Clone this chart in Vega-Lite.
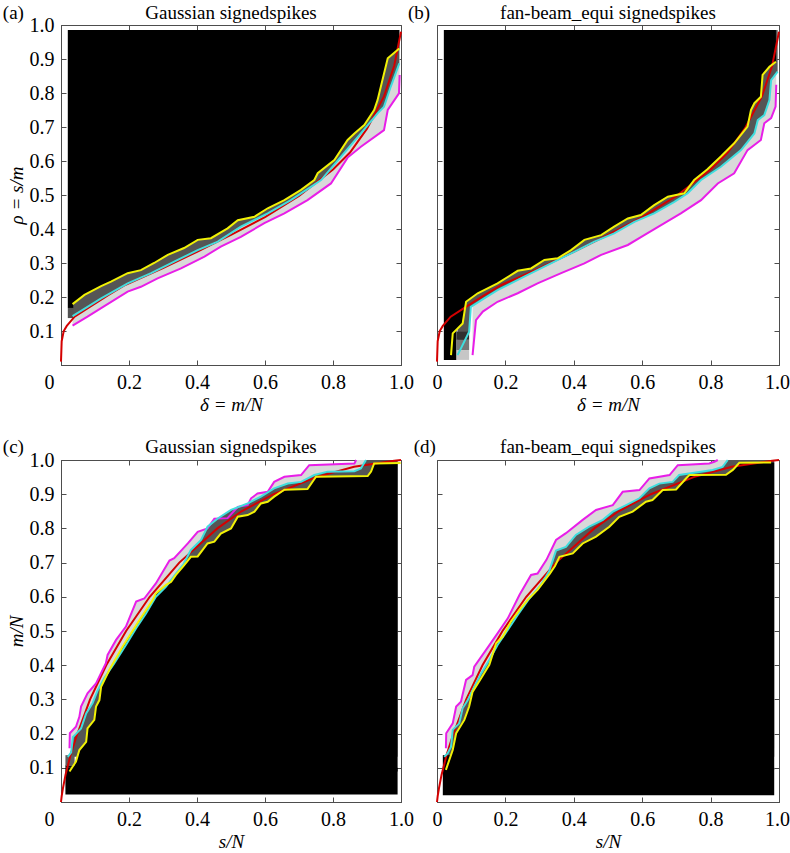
{
"$schema":"https://vega.github.io/schema/vega-lite/v6.json",
"background":"white",
"padding":{"left":2,"top":3,"right":4,"bottom":0},
"bounds":"flush",
"columns":2,
"spacing":{"row":95,"column":36},
"datasets":{
"L":[
{"p":"ab","s":"R","x":0,"y":0.01},{"p":"ab","s":"R","x":0.002,"y":0.07},{"p":"ab","s":"R","x":0.008,"y":0.1},{"p":"ab","s":"R","x":0.017,"y":0.115},{"p":"ab","s":"R","x":0.04,"y":0.142},{"p":"ab","s":"R","x":0.08,"y":0.168},{"p":"ab","s":"R","x":0.14,"y":0.206},{"p":"ab","s":"R","x":0.19,"y":0.236},{"p":"ab","s":"R","x":0.3,"y":0.285},{"p":"ab","s":"R","x":0.4,"y":0.333},{"p":"ab","s":"R","x":0.5,"y":0.383},{"p":"ab","s":"R","x":0.6,"y":0.435},{"p":"ab","s":"R","x":0.7,"y":0.497},{"p":"ab","s":"R","x":0.8,"y":0.575},{"p":"ab","s":"R","x":0.85,"y":0.625},{"p":"ab","s":"R","x":0.9,"y":0.695},{"p":"ab","s":"R","x":0.95,"y":0.79},{"p":"ab","s":"R","x":0.98,"y":0.88},{"p":"ab","s":"R","x":1.0,"y":0.98},
{"p":"cd","s":"R","x":0,"y":0},{"p":"cd","s":"R","x":0.002,"y":0.017},{"p":"cd","s":"R","x":0.0057,"y":0.04},{"p":"cd","s":"R","x":0.0134,"y":0.08},{"p":"cd","s":"R","x":0.0288,"y":0.14},{"p":"cd","s":"R","x":0.0448,"y":0.19},{"p":"cd","s":"R","x":0.0855,"y":0.3},{"p":"cd","s":"R","x":0.133,"y":0.4},{"p":"cd","s":"R","x":0.1915,"y":0.5},{"p":"cd","s":"R","x":0.261,"y":0.6},{"p":"cd","s":"R","x":0.348,"y":0.7},{"p":"cd","s":"R","x":0.46,"y":0.8},{"p":"cd","s":"R","x":0.531,"y":0.85},{"p":"cd","s":"R","x":0.6255,"y":0.9},{"p":"cd","s":"R","x":0.7505,"y":0.95},{"p":"cd","s":"R","x":0.862,"y":0.98},{"p":"cd","s":"R","x":0.98,"y":0.998},{"p":"cd","s":"R","x":1.0,"y":1.0},
{"p":"a","s":"Y","x":0.034,"y":0.179},{"p":"a","s":"Y","x":0.069,"y":0.206},{"p":"a","s":"Y","x":0.118,"y":0.232},{"p":"a","s":"Y","x":0.147,"y":0.245},{"p":"a","s":"Y","x":0.196,"y":0.27},{"p":"a","s":"Y","x":0.235,"y":0.279},{"p":"a","s":"Y","x":0.274,"y":0.3},{"p":"a","s":"Y","x":0.314,"y":0.324},{"p":"a","s":"Y","x":0.362,"y":0.344},{"p":"a","s":"Y","x":0.402,"y":0.368},{"p":"a","s":"Y","x":0.441,"y":0.373},{"p":"a","s":"Y","x":0.49,"y":0.402},{"p":"a","s":"Y","x":0.52,"y":0.426},{"p":"a","s":"Y","x":0.569,"y":0.436},{"p":"a","s":"Y","x":0.608,"y":0.461},{"p":"a","s":"Y","x":0.657,"y":0.485},{"p":"a","s":"Y","x":0.706,"y":0.515},{"p":"a","s":"Y","x":0.745,"y":0.544},{"p":"a","s":"Y","x":0.755,"y":0.564},{"p":"a","s":"Y","x":0.804,"y":0.603},{"p":"a","s":"Y","x":0.843,"y":0.662},{"p":"a","s":"Y","x":0.863,"y":0.681},{"p":"a","s":"Y","x":0.892,"y":0.706},{"p":"a","s":"Y","x":0.921,"y":0.75},{"p":"a","s":"Y","x":0.931,"y":0.779},{"p":"a","s":"Y","x":0.961,"y":0.902},{"p":"a","s":"Y","x":0.995,"y":0.931},
{"p":"a","s":"C","x":0.034,"y":0.144},{"p":"a","s":"C","x":0.078,"y":0.171},{"p":"a","s":"C","x":0.118,"y":0.196},{"p":"a","s":"C","x":0.196,"y":0.24},{"p":"a","s":"C","x":0.265,"y":0.27},{"p":"a","s":"C","x":0.333,"y":0.304},{"p":"a","s":"C","x":0.402,"y":0.338},{"p":"a","s":"C","x":0.461,"y":0.363},{"p":"a","s":"C","x":0.529,"y":0.407},{"p":"a","s":"C","x":0.608,"y":0.446},{"p":"a","s":"C","x":0.676,"y":0.485},{"p":"a","s":"C","x":0.735,"y":0.524},{"p":"a","s":"C","x":0.765,"y":0.544},{"p":"a","s":"C","x":0.833,"y":0.624},{"p":"a","s":"C","x":0.882,"y":0.681},{"p":"a","s":"C","x":0.931,"y":0.74},{"p":"a","s":"C","x":0.95,"y":0.76},{"p":"a","s":"C","x":0.97,"y":0.819},{"p":"a","s":"C","x":0.995,"y":0.887},
{"p":"a","s":"M","x":0.034,"y":0.116},{"p":"a","s":"M","x":0.078,"y":0.142},{"p":"a","s":"M","x":0.118,"y":0.167},{"p":"a","s":"M","x":0.196,"y":0.216},{"p":"a","s":"M","x":0.235,"y":0.23},{"p":"a","s":"M","x":0.284,"y":0.255},{"p":"a","s":"M","x":0.353,"y":0.284},{"p":"a","s":"M","x":0.422,"y":0.319},{"p":"a","s":"M","x":0.47,"y":0.348},{"p":"a","s":"M","x":0.529,"y":0.377},{"p":"a","s":"M","x":0.598,"y":0.417},{"p":"a","s":"M","x":0.657,"y":0.446},{"p":"a","s":"M","x":0.725,"y":0.485},{"p":"a","s":"M","x":0.794,"y":0.534},{"p":"a","s":"M","x":0.843,"y":0.61},{"p":"a","s":"M","x":0.882,"y":0.642},{"p":"a","s":"M","x":0.95,"y":0.691},{"p":"a","s":"M","x":0.961,"y":0.75},{"p":"a","s":"M","x":0.994,"y":0.799},{"p":"a","s":"M","x":0.996,"y":0.853},
{"p":"b","s":"Y","x":0.041,"y":0.029},{"p":"b","s":"Y","x":0.046,"y":0.093},{"p":"b","s":"Y","x":0.075,"y":0.122},{"p":"b","s":"Y","x":0.085,"y":0.186},{"p":"b","s":"Y","x":0.119,"y":0.211},{"p":"b","s":"Y","x":0.177,"y":0.24},{"p":"b","s":"Y","x":0.236,"y":0.277},{"p":"b","s":"Y","x":0.275,"y":0.284},{"p":"b","s":"Y","x":0.314,"y":0.309},{"p":"b","s":"Y","x":0.353,"y":0.314},{"p":"b","s":"Y","x":0.392,"y":0.338},{"p":"b","s":"Y","x":0.431,"y":0.368},{"p":"b","s":"Y","x":0.48,"y":0.382},{"p":"b","s":"Y","x":0.518,"y":0.407},{"p":"b","s":"Y","x":0.558,"y":0.431},{"p":"b","s":"Y","x":0.596,"y":0.441},{"p":"b","s":"Y","x":0.635,"y":0.47},{"p":"b","s":"Y","x":0.675,"y":0.495},{"p":"b","s":"Y","x":0.723,"y":0.505},{"p":"b","s":"Y","x":0.752,"y":0.544},{"p":"b","s":"Y","x":0.79,"y":0.575},{"p":"b","s":"Y","x":0.83,"y":0.613},{"p":"b","s":"Y","x":0.869,"y":0.652},{"p":"b","s":"Y","x":0.908,"y":0.701},{"p":"b","s":"Y","x":0.918,"y":0.75},{"p":"b","s":"Y","x":0.928,"y":0.77},{"p":"b","s":"Y","x":0.947,"y":0.789},{"p":"b","s":"Y","x":0.952,"y":0.853},{"p":"b","s":"Y","x":0.972,"y":0.877},{"p":"b","s":"Y","x":0.991,"y":0.892},
{"p":"b","s":"C","x":0.06,"y":0.029},{"p":"b","s":"C","x":0.07,"y":0.049},{"p":"b","s":"C","x":0.094,"y":0.098},{"p":"b","s":"C","x":0.099,"y":0.171},{"p":"b","s":"C","x":0.138,"y":0.196},{"p":"b","s":"C","x":0.177,"y":0.22},{"p":"b","s":"C","x":0.255,"y":0.26},{"p":"b","s":"C","x":0.333,"y":0.299},{"p":"b","s":"C","x":0.401,"y":0.333},{"p":"b","s":"C","x":0.46,"y":0.363},{"p":"b","s":"C","x":0.518,"y":0.387},{"p":"b","s":"C","x":0.577,"y":0.421},{"p":"b","s":"C","x":0.635,"y":0.446},{"p":"b","s":"C","x":0.694,"y":0.48},{"p":"b","s":"C","x":0.733,"y":0.505},{"p":"b","s":"C","x":0.772,"y":0.544},{"p":"b","s":"C","x":0.83,"y":0.583},{"p":"b","s":"C","x":0.889,"y":0.632},{"p":"b","s":"C","x":0.928,"y":0.681},{"p":"b","s":"C","x":0.938,"y":0.72},{"p":"b","s":"C","x":0.957,"y":0.735},{"p":"b","s":"C","x":0.972,"y":0.779},{"p":"b","s":"C","x":0.977,"y":0.838},{"p":"b","s":"C","x":0.996,"y":0.863},
{"p":"b","s":"M","x":0.104,"y":0.029},{"p":"b","s":"M","x":0.114,"y":0.132},{"p":"b","s":"M","x":0.134,"y":0.157},{"p":"b","s":"M","x":0.177,"y":0.186},{"p":"b","s":"M","x":0.236,"y":0.211},{"p":"b","s":"M","x":0.294,"y":0.24},{"p":"b","s":"M","x":0.363,"y":0.27},{"p":"b","s":"M","x":0.431,"y":0.299},{"p":"b","s":"M","x":0.48,"y":0.324},{"p":"b","s":"M","x":0.558,"y":0.353},{"p":"b","s":"M","x":0.606,"y":0.382},{"p":"b","s":"M","x":0.665,"y":0.417},{"p":"b","s":"M","x":0.713,"y":0.446},{"p":"b","s":"M","x":0.772,"y":0.485},{"p":"b","s":"M","x":0.821,"y":0.534},{"p":"b","s":"M","x":0.869,"y":0.564},{"p":"b","s":"M","x":0.908,"y":0.632},{"p":"b","s":"M","x":0.947,"y":0.662},{"p":"b","s":"M","x":0.957,"y":0.711},{"p":"b","s":"M","x":0.977,"y":0.726},{"p":"b","s":"M","x":0.99,"y":0.76},{"p":"b","s":"M","x":0.992,"y":0.824},
{"p":"c","s":"Y","x":0.025,"y":0.089},{"p":"c","s":"Y","x":0.044,"y":0.118},{"p":"c","s":"Y","x":0.054,"y":0.152},{"p":"c","s":"Y","x":0.074,"y":0.176},{"p":"c","s":"Y","x":0.078,"y":0.215},{"p":"c","s":"Y","x":0.098,"y":0.24},{"p":"c","s":"Y","x":0.103,"y":0.279},{"p":"c","s":"Y","x":0.113,"y":0.298},{"p":"c","s":"Y","x":0.118,"y":0.337},{"p":"c","s":"Y","x":0.142,"y":0.386},{"p":"c","s":"Y","x":0.181,"y":0.454},{"p":"c","s":"Y","x":0.225,"y":0.523},{"p":"c","s":"Y","x":0.27,"y":0.591},{"p":"c","s":"Y","x":0.279,"y":0.61},{"p":"c","s":"Y","x":0.309,"y":0.635},{"p":"c","s":"Y","x":0.324,"y":0.644},{"p":"c","s":"Y","x":0.338,"y":0.664},{"p":"c","s":"Y","x":0.36,"y":0.69},{"p":"c","s":"Y","x":0.382,"y":0.717},{"p":"c","s":"Y","x":0.402,"y":0.718},{"p":"c","s":"Y","x":0.431,"y":0.756},{"p":"c","s":"Y","x":0.451,"y":0.761},{"p":"c","s":"Y","x":0.47,"y":0.785},{"p":"c","s":"Y","x":0.5,"y":0.8},{"p":"c","s":"Y","x":0.52,"y":0.834},{"p":"c","s":"Y","x":0.549,"y":0.839},{"p":"c","s":"Y","x":0.569,"y":0.849},{"p":"c","s":"Y","x":0.588,"y":0.873},{"p":"c","s":"Y","x":0.608,"y":0.878},{"p":"c","s":"Y","x":0.627,"y":0.893},{"p":"c","s":"Y","x":0.657,"y":0.913},{"p":"c","s":"Y","x":0.725,"y":0.915},{"p":"c","s":"Y","x":0.75,"y":0.951},{"p":"c","s":"Y","x":0.902,"y":0.953},{"p":"c","s":"Y","x":0.912,"y":0.966},{"p":"c","s":"Y","x":0.921,"y":0.99},{"p":"c","s":"Y","x":0.999,"y":0.991},
{"p":"c","s":"C","x":0.02,"y":0.132},{"p":"c","s":"C","x":0.03,"y":0.145},{"p":"c","s":"C","x":0.035,"y":0.19},{"p":"c","s":"C","x":0.045,"y":0.2},{"p":"c","s":"C","x":0.059,"y":0.215},{"p":"c","s":"C","x":0.074,"y":0.259},{"p":"c","s":"C","x":0.093,"y":0.289},{"p":"c","s":"C","x":0.108,"y":0.327},{"p":"c","s":"C","x":0.127,"y":0.362},{"p":"c","s":"C","x":0.157,"y":0.406},{"p":"c","s":"C","x":0.191,"y":0.459},{"p":"c","s":"C","x":0.221,"y":0.508},{"p":"c","s":"C","x":0.25,"y":0.551},{"p":"c","s":"C","x":0.279,"y":0.6},{"p":"c","s":"C","x":0.309,"y":0.63},{"p":"c","s":"C","x":0.338,"y":0.668},{"p":"c","s":"C","x":0.36,"y":0.695},{"p":"c","s":"C","x":0.382,"y":0.737},{"p":"c","s":"C","x":0.412,"y":0.766},{"p":"c","s":"C","x":0.431,"y":0.805},{"p":"c","s":"C","x":0.461,"y":0.829},{"p":"c","s":"C","x":0.5,"y":0.854},{"p":"c","s":"C","x":0.549,"y":0.873},{"p":"c","s":"C","x":0.588,"y":0.893},{"p":"c","s":"C","x":0.627,"y":0.917},{"p":"c","s":"C","x":0.667,"y":0.931},{"p":"c","s":"C","x":0.706,"y":0.936},{"p":"c","s":"C","x":0.745,"y":0.956},{"p":"c","s":"C","x":0.784,"y":0.966},{"p":"c","s":"C","x":0.863,"y":0.967},{"p":"c","s":"C","x":0.882,"y":0.975},{"p":"c","s":"C","x":0.897,"y":1.0},
{"p":"c","s":"M","x":0.025,"y":0.157},{"p":"c","s":"M","x":0.026,"y":0.201},{"p":"c","s":"M","x":0.044,"y":0.22},{"p":"c","s":"M","x":0.054,"y":0.249},{"p":"c","s":"M","x":0.059,"y":0.279},{"p":"c","s":"M","x":0.078,"y":0.318},{"p":"c","s":"M","x":0.103,"y":0.347},{"p":"c","s":"M","x":0.132,"y":0.406},{"p":"c","s":"M","x":0.137,"y":0.43},{"p":"c","s":"M","x":0.162,"y":0.474},{"p":"c","s":"M","x":0.191,"y":0.513},{"p":"c","s":"M","x":0.221,"y":0.586},{"p":"c","s":"M","x":0.245,"y":0.595},{"p":"c","s":"M","x":0.279,"y":0.639},{"p":"c","s":"M","x":0.319,"y":0.706},{"p":"c","s":"M","x":0.333,"y":0.713},{"p":"c","s":"M","x":0.373,"y":0.756},{"p":"c","s":"M","x":0.402,"y":0.79},{"p":"c","s":"M","x":0.431,"y":0.8},{"p":"c","s":"M","x":0.451,"y":0.828},{"p":"c","s":"M","x":0.49,"y":0.83},{"p":"c","s":"M","x":0.52,"y":0.863},{"p":"c","s":"M","x":0.549,"y":0.868},{"p":"c","s":"M","x":0.559,"y":0.888},{"p":"c","s":"M","x":0.578,"y":0.902},{"p":"c","s":"M","x":0.608,"y":0.907},{"p":"c","s":"M","x":0.627,"y":0.936},{"p":"c","s":"M","x":0.657,"y":0.951},{"p":"c","s":"M","x":0.706,"y":0.956},{"p":"c","s":"M","x":0.73,"y":0.985},{"p":"c","s":"M","x":0.863,"y":0.99},{"p":"c","s":"M","x":0.868,"y":1.0},
{"p":"d","s":"Y","x":0.026,"y":0.094},{"p":"d","s":"Y","x":0.046,"y":0.152},{"p":"d","s":"Y","x":0.056,"y":0.201},{"p":"d","s":"Y","x":0.08,"y":0.24},{"p":"d","s":"Y","x":0.094,"y":0.279},{"p":"d","s":"Y","x":0.104,"y":0.322},{"p":"d","s":"Y","x":0.129,"y":0.362},{"p":"d","s":"Y","x":0.153,"y":0.401},{"p":"d","s":"Y","x":0.173,"y":0.464},{"p":"d","s":"Y","x":0.192,"y":0.483},{"p":"d","s":"Y","x":0.216,"y":0.527},{"p":"d","s":"Y","x":0.241,"y":0.561},{"p":"d","s":"Y","x":0.265,"y":0.591},{"p":"d","s":"Y","x":0.294,"y":0.62},{"p":"d","s":"Y","x":0.33,"y":0.668},{"p":"d","s":"Y","x":0.345,"y":0.69},{"p":"d","s":"Y","x":0.358,"y":0.717},{"p":"d","s":"Y","x":0.397,"y":0.727},{"p":"d","s":"Y","x":0.426,"y":0.756},{"p":"d","s":"Y","x":0.465,"y":0.776},{"p":"d","s":"Y","x":0.504,"y":0.805},{"p":"d","s":"Y","x":0.533,"y":0.834},{"p":"d","s":"Y","x":0.572,"y":0.849},{"p":"d","s":"Y","x":0.611,"y":0.878},{"p":"d","s":"Y","x":0.63,"y":0.883},{"p":"d","s":"Y","x":0.66,"y":0.912},{"p":"d","s":"Y","x":0.699,"y":0.914},{"p":"d","s":"Y","x":0.728,"y":0.946},{"p":"d","s":"Y","x":0.738,"y":0.956},{"p":"d","s":"Y","x":0.845,"y":0.957},{"p":"d","s":"Y","x":0.865,"y":0.971},{"p":"d","s":"Y","x":0.884,"y":0.992},{"p":"d","s":"Y","x":0.977,"y":0.993},
{"p":"d","s":"C","x":0.021,"y":0.132},{"p":"d","s":"C","x":0.031,"y":0.142},{"p":"d","s":"C","x":0.041,"y":0.162},{"p":"d","s":"C","x":0.046,"y":0.211},{"p":"d","s":"C","x":0.065,"y":0.23},{"p":"d","s":"C","x":0.075,"y":0.274},{"p":"d","s":"C","x":0.09,"y":0.298},{"p":"d","s":"C","x":0.109,"y":0.337},{"p":"d","s":"C","x":0.129,"y":0.376},{"p":"d","s":"C","x":0.153,"y":0.415},{"p":"d","s":"C","x":0.177,"y":0.459},{"p":"d","s":"C","x":0.207,"y":0.503},{"p":"d","s":"C","x":0.236,"y":0.547},{"p":"d","s":"C","x":0.27,"y":0.595},{"p":"d","s":"C","x":0.304,"y":0.635},{"p":"d","s":"C","x":0.328,"y":0.675},{"p":"d","s":"C","x":0.348,"y":0.735},{"p":"d","s":"C","x":0.377,"y":0.746},{"p":"d","s":"C","x":0.406,"y":0.781},{"p":"d","s":"C","x":0.445,"y":0.805},{"p":"d","s":"C","x":0.485,"y":0.825},{"p":"d","s":"C","x":0.514,"y":0.849},{"p":"d","s":"C","x":0.553,"y":0.868},{"p":"d","s":"C","x":0.592,"y":0.888},{"p":"d","s":"C","x":0.621,"y":0.917},{"p":"d","s":"C","x":0.65,"y":0.931},{"p":"d","s":"C","x":0.689,"y":0.936},{"p":"d","s":"C","x":0.708,"y":0.956},{"p":"d","s":"C","x":0.806,"y":0.971},{"p":"d","s":"C","x":0.835,"y":0.98},{"p":"d","s":"C","x":0.85,"y":1.0},
{"p":"d","s":"M","x":0.026,"y":0.157},{"p":"d","s":"M","x":0.027,"y":0.201},{"p":"d","s":"M","x":0.046,"y":0.23},{"p":"d","s":"M","x":0.056,"y":0.279},{"p":"d","s":"M","x":0.07,"y":0.293},{"p":"d","s":"M","x":0.085,"y":0.357},{"p":"d","s":"M","x":0.104,"y":0.371},{"p":"d","s":"M","x":0.109,"y":0.396},{"p":"d","s":"M","x":0.143,"y":0.444},{"p":"d","s":"M","x":0.177,"y":0.493},{"p":"d","s":"M","x":0.207,"y":0.537},{"p":"d","s":"M","x":0.241,"y":0.605},{"p":"d","s":"M","x":0.275,"y":0.664},{"p":"d","s":"M","x":0.294,"y":0.668},{"p":"d","s":"M","x":0.32,"y":0.708},{"p":"d","s":"M","x":0.348,"y":0.766},{"p":"d","s":"M","x":0.377,"y":0.786},{"p":"d","s":"M","x":0.426,"y":0.825},{"p":"d","s":"M","x":0.465,"y":0.854},{"p":"d","s":"M","x":0.514,"y":0.868},{"p":"d","s":"M","x":0.543,"y":0.907},{"p":"d","s":"M","x":0.592,"y":0.912},{"p":"d","s":"M","x":0.621,"y":0.946},{"p":"d","s":"M","x":0.68,"y":0.956},{"p":"d","s":"M","x":0.704,"y":0.985},{"p":"d","s":"M","x":0.796,"y":0.99},{"p":"d","s":"M","x":0.811,"y":0.995},{"p":"d","s":"M","x":0.821,"y":1.0}
],
"K":[
{"p":"a","x":0.02,"x2":0.036,"y":0.168,"y2":0.985,"v":1},{"p":"a","x":0.02,"x2":0.036,"y":0.138,"y2":0.168,"v":0.65},
{"p":"b","x":0.02,"x2":0.057,"y":0.015,"y2":0.985,"v":1},{"p":"b","x":0.057,"x2":0.094,"y":0.074,"y2":0.098,"v":0.8},{"p":"b","x":0.057,"x2":0.094,"y":0.044,"y2":0.074,"v":0.5},{"p":"b","x":0.057,"x2":0.094,"y":0.015,"y2":0.044,"v":0.2},
{"p":"c","x":0.013,"x2":0.99,"y":0.022,"y2":0.1,"v":1},{"p":"c","x":0.013,"x2":0.04,"y":0.1,"y2":0.107,"v":1},{"p":"c","x":0.013,"x2":0.04,"y":0.105,"y2":0.137,"v":0.6},
{"p":"d","x":0.017,"x2":0.986,"y":0.02,"y2":0.1,"v":1},{"p":"d","x":0.017,"x2":0.04,"y":0.098,"y2":0.137,"v":1}
]
},
"concat":[
{"width":340,"height":340,"data":{"name":"L"},"transform":[{"filter":"datum.p=='a'||datum.p=='ab'"}],"resolve":{"axis":{"x":"independent","y":"independent"}},
"layer":[
{"transform":[{"filter":"datum.s=='M'"}],"mark":{"type":"area","color":"#d9d9d9"},"encoding":{"x":{"field":"x","type":"quantitative","scale":{"domain":[0,1],"nice":false},"axis":{"orient":"bottom","values":[0,0.2,0.4,0.6,0.8,1],"labelExpr":"datum.value==0?'0':format(datum.value,'.1f')","labelFlush":false,"labelOffset":{"condition":{"test":"datum.value==0","value":-12},"value":0},"title":"δ = m/N"}},"y":{"field":"y","type":"quantitative","scale":{"domain":[0,1],"nice":false},"axis":{"orient":"left","values":[0.1,0.2,0.3,0.4,0.5,0.6,0.7,0.8,0.9,1],"format":".1f","title":"ρ = s/m"}},"y2":{"datum":0.985}}},
{"transform":[{"filter":"datum.s=='C'"}],"mark":{"type":"area","color":"#555555"},"encoding":{"x":{"field":"x","type":"quantitative","axis":null},"y":{"field":"y","type":"quantitative","axis":null},"y2":{"datum":0.985}}},
{"transform":[{"filter":"datum.s=='Y'"}],"mark":{"type":"area","color":"#000000"},"encoding":{"x":{"field":"x","type":"quantitative","axis":null},"y":{"field":"y","type":"quantitative","axis":null},"y2":{"datum":0.985}}},
{"data":{"name":"K"},"transform":[{"filter":"datum.p=='a'"}],"mark":{"type":"rect"},"encoding":{"x":{"field":"x","type":"quantitative","axis":{"orient":"top","values":[0.2,0.4,0.6,0.8],"labels":false,"title":null}},"x2":{"field":"x2"},"y":{"field":"y","type":"quantitative","axis":{"orient":"right","values":[0.1,0.2,0.3,0.4,0.5,0.6,0.7,0.8,0.9],"labels":false,"title":null}},"y2":{"field":"y2"},"color":{"field":"v","type":"quantitative","scale":{"domain":[0,1],"range":["#ffffff","#000000"]},"legend":null}}},
{"transform":[{"filter":"datum.s=='R'"}],"mark":{"type":"line","color":"#d40000","strokeWidth":2},"encoding":{"x":{"field":"x","type":"quantitative","axis":null},"y":{"field":"y","type":"quantitative","axis":null}}},
{"transform":[{"filter":"datum.s=='M'"}],"mark":{"type":"line","color":"#e81ee8","strokeWidth":2},"encoding":{"x":{"field":"x","type":"quantitative","axis":null},"y":{"field":"y","type":"quantitative","axis":null}}},
{"transform":[{"filter":"datum.s=='C'"}],"mark":{"type":"line","color":"#40dede","strokeWidth":2},"encoding":{"x":{"field":"x","type":"quantitative","axis":null},"y":{"field":"y","type":"quantitative","axis":null}}},
{"transform":[{"filter":"datum.s=='Y'"}],"mark":{"type":"line","color":"#f2f205","strokeWidth":2},"encoding":{"x":{"field":"x","type":"quantitative","axis":null},"y":{"field":"y","type":"quantitative","axis":null}}},
{"data":{"values":[{}]},"mark":{"type":"text","align":"left","baseline":"middle","fontSize":19,"font":"Liberation Serif"},"encoding":{"x":{"datum":-0.171,"type":"quantitative","axis":null},"y":{"datum":1.035,"type":"quantitative","axis":null},"text":{"value":"(a)"}}},
{"data":{"values":[{}]},"mark":{"type":"text","align":"center","baseline":"middle","fontSize":19,"font":"Liberation Serif"},"encoding":{"x":{"datum":0.5,"type":"quantitative","axis":null},"y":{"datum":1.035,"type":"quantitative","axis":null},"text":{"value":"Gaussian signedspikes"}}}
]},
{"width":342,"height":340,"data":{"name":"L"},"transform":[{"filter":"datum.p=='b'||datum.p=='ab'"}],"resolve":{"axis":{"x":"independent","y":"independent"}},
"layer":[
{"transform":[{"filter":"datum.s=='M'"}],"mark":{"type":"area","color":"#d9d9d9"},"encoding":{"x":{"field":"x","type":"quantitative","scale":{"domain":[0,1],"nice":false},"axis":{"orient":"bottom","values":[0,0.2,0.4,0.6,0.8,1],"labelExpr":"datum.value==0?'0':format(datum.value,'.1f')","labelFlush":false,"labelOffset":{"condition":{"test":"datum.value==1","value":-2},"value":0},"title":"δ = m/N"}},"y":{"field":"y","type":"quantitative","scale":{"domain":[0,1],"nice":false},"axis":{"orient":"left","values":[0.1,0.2,0.3,0.4,0.5,0.6,0.7,0.8,0.9],"labels":false,"title":null}},"y2":{"datum":0.985}}},
{"transform":[{"filter":"datum.s=='C'"}],"mark":{"type":"area","color":"#555555"},"encoding":{"x":{"field":"x","type":"quantitative","axis":null},"y":{"field":"y","type":"quantitative","axis":null},"y2":{"datum":0.985}}},
{"transform":[{"filter":"datum.s=='Y'"}],"mark":{"type":"area","color":"#000000"},"encoding":{"x":{"field":"x","type":"quantitative","axis":null},"y":{"field":"y","type":"quantitative","axis":null},"y2":{"datum":0.985}}},
{"data":{"name":"K"},"transform":[{"filter":"datum.p=='b'"}],"mark":{"type":"rect"},"encoding":{"x":{"field":"x","type":"quantitative","axis":{"orient":"top","values":[0.2,0.4,0.6,0.8],"labels":false,"title":null}},"x2":{"field":"x2"},"y":{"field":"y","type":"quantitative","axis":{"orient":"right","values":[0.1,0.2,0.3,0.4,0.5,0.6,0.7,0.8,0.9],"labels":false,"title":null}},"y2":{"field":"y2"},"color":{"field":"v","type":"quantitative","scale":{"domain":[0,1],"range":["#ffffff","#000000"]},"legend":null}}},
{"transform":[{"filter":"datum.s=='R'"}],"mark":{"type":"line","color":"#d40000","strokeWidth":2},"encoding":{"x":{"field":"x","type":"quantitative","axis":null},"y":{"field":"y","type":"quantitative","axis":null}}},
{"transform":[{"filter":"datum.s=='M'"}],"mark":{"type":"line","color":"#e81ee8","strokeWidth":2},"encoding":{"x":{"field":"x","type":"quantitative","axis":null},"y":{"field":"y","type":"quantitative","axis":null}}},
{"transform":[{"filter":"datum.s=='C'"}],"mark":{"type":"line","color":"#40dede","strokeWidth":2},"encoding":{"x":{"field":"x","type":"quantitative","axis":null},"y":{"field":"y","type":"quantitative","axis":null}}},
{"transform":[{"filter":"datum.s=='Y'"}],"mark":{"type":"line","color":"#f2f205","strokeWidth":2},"encoding":{"x":{"field":"x","type":"quantitative","axis":null},"y":{"field":"y","type":"quantitative","axis":null}}},
{"data":{"values":[{}]},"mark":{"type":"text","align":"left","baseline":"middle","fontSize":19,"font":"Liberation Serif"},"encoding":{"x":{"datum":-0.085,"type":"quantitative","axis":null},"y":{"datum":1.035,"type":"quantitative","axis":null},"text":{"value":"(b)"}}},
{"data":{"values":[{}]},"mark":{"type":"text","align":"center","baseline":"middle","fontSize":19,"font":"Liberation Serif"},"encoding":{"x":{"datum":0.5,"type":"quantitative","axis":null},"y":{"datum":1.035,"type":"quantitative","axis":null},"text":{"value":"fan-beam_equi signedspikes"}}}
]},
{"width":340,"height":342,"data":{"name":"L"},"transform":[{"filter":"datum.p=='c'||datum.p=='cd'"}],"resolve":{"axis":{"x":"independent","y":"independent"}},
"layer":[
{"transform":[{"filter":"datum.s=='M'"}],"mark":{"type":"area","orient":"horizontal","color":"#d9d9d9"},"encoding":{"y":{"field":"y","type":"quantitative","scale":{"domain":[0,1],"nice":false},"axis":{"orient":"left","values":[0.1,0.2,0.3,0.4,0.5,0.6,0.7,0.8,0.9,1],"format":".1f","title":"m/N"}},"x":{"field":"x","type":"quantitative","scale":{"domain":[0,1],"nice":false},"axis":{"orient":"bottom","values":[0,0.2,0.4,0.6,0.8,1],"labelExpr":"datum.value==0?'0':format(datum.value,'.1f')","labelFlush":false,"labelOffset":{"condition":{"test":"datum.value==0","value":-12},"value":0},"title":"s/N"}},"x2":{"datum":0.99}}},
{"transform":[{"filter":"datum.s=='C'"}],"mark":{"type":"area","orient":"horizontal","color":"#555555"},"encoding":{"y":{"field":"y","type":"quantitative","axis":null},"x":{"field":"x","type":"quantitative","axis":null},"x2":{"datum":0.99}}},
{"transform":[{"filter":"datum.s=='Y'"}],"mark":{"type":"area","orient":"horizontal","color":"#000000"},"encoding":{"y":{"field":"y","type":"quantitative","axis":null},"x":{"field":"x","type":"quantitative","axis":null},"x2":{"datum":0.99}}},
{"data":{"name":"K"},"transform":[{"filter":"datum.p=='c'"}],"mark":{"type":"rect"},"encoding":{"x":{"field":"x","type":"quantitative","axis":{"orient":"top","values":[0.2,0.4,0.6,0.8],"labels":false,"title":null}},"x2":{"field":"x2"},"y":{"field":"y","type":"quantitative","axis":{"orient":"right","values":[0.1,0.2,0.3,0.4,0.5,0.6,0.7,0.8,0.9],"labels":false,"title":null}},"y2":{"field":"y2"},"color":{"field":"v","type":"quantitative","scale":{"domain":[0,1],"range":["#ffffff","#000000"]},"legend":null}}},
{"transform":[{"filter":"datum.s=='R'"}],"mark":{"type":"line","color":"#d40000","strokeWidth":2},"encoding":{"x":{"field":"x","type":"quantitative","axis":null},"y":{"field":"y","type":"quantitative","axis":null},"order":{"field":"y","type":"quantitative"}}},
{"transform":[{"filter":"datum.s=='M'"}],"mark":{"type":"line","color":"#e81ee8","strokeWidth":2},"encoding":{"x":{"field":"x","type":"quantitative","axis":null},"y":{"field":"y","type":"quantitative","axis":null},"order":{"field":"y","type":"quantitative"}}},
{"transform":[{"filter":"datum.s=='C'"}],"mark":{"type":"line","color":"#40dede","strokeWidth":2},"encoding":{"x":{"field":"x","type":"quantitative","axis":null},"y":{"field":"y","type":"quantitative","axis":null},"order":{"field":"y","type":"quantitative"}}},
{"transform":[{"filter":"datum.s=='Y'"}],"mark":{"type":"line","color":"#f2f205","strokeWidth":2},"encoding":{"x":{"field":"x","type":"quantitative","axis":null},"y":{"field":"y","type":"quantitative","axis":null},"order":{"field":"y","type":"quantitative"}}},
{"data":{"values":[{}]},"mark":{"type":"text","align":"left","baseline":"middle","fontSize":19,"font":"Liberation Serif"},"encoding":{"x":{"datum":-0.171,"type":"quantitative","axis":null},"y":{"datum":1.038,"type":"quantitative","axis":null},"text":{"value":"(c)"}}},
{"data":{"values":[{}]},"mark":{"type":"text","align":"center","baseline":"middle","fontSize":19,"font":"Liberation Serif"},"encoding":{"x":{"datum":0.5,"type":"quantitative","axis":null},"y":{"datum":1.038,"type":"quantitative","axis":null},"text":{"value":"Gaussian signedspikes"}}}
]},
{"width":342,"height":342,"data":{"name":"L"},"transform":[{"filter":"datum.p=='d'||datum.p=='cd'"}],"resolve":{"axis":{"x":"independent","y":"independent"}},
"layer":[
{"transform":[{"filter":"datum.s=='M'"}],"mark":{"type":"area","orient":"horizontal","color":"#d9d9d9"},"encoding":{"y":{"field":"y","type":"quantitative","scale":{"domain":[0,1],"nice":false},"axis":{"orient":"left","values":[0.1,0.2,0.3,0.4,0.5,0.6,0.7,0.8,0.9],"labels":false,"title":null}},"x":{"field":"x","type":"quantitative","scale":{"domain":[0,1],"nice":false},"axis":{"orient":"bottom","values":[0,0.2,0.4,0.6,0.8,1],"labelExpr":"datum.value==0?'0':format(datum.value,'.1f')","labelFlush":false,"labelOffset":{"condition":{"test":"datum.value==1","value":-2},"value":0},"title":"s/N"}},"x2":{"datum":0.986}}},
{"transform":[{"filter":"datum.s=='C'"}],"mark":{"type":"area","orient":"horizontal","color":"#555555"},"encoding":{"y":{"field":"y","type":"quantitative","axis":null},"x":{"field":"x","type":"quantitative","axis":null},"x2":{"datum":0.986}}},
{"transform":[{"filter":"datum.s=='Y'"}],"mark":{"type":"area","orient":"horizontal","color":"#000000"},"encoding":{"y":{"field":"y","type":"quantitative","axis":null},"x":{"field":"x","type":"quantitative","axis":null},"x2":{"datum":0.986}}},
{"data":{"name":"K"},"transform":[{"filter":"datum.p=='d'"}],"mark":{"type":"rect"},"encoding":{"x":{"field":"x","type":"quantitative","axis":{"orient":"top","values":[0.2,0.4,0.6,0.8],"labels":false,"title":null}},"x2":{"field":"x2"},"y":{"field":"y","type":"quantitative","axis":{"orient":"right","values":[0.1,0.2,0.3,0.4,0.5,0.6,0.7,0.8,0.9],"labels":false,"title":null}},"y2":{"field":"y2"},"color":{"field":"v","type":"quantitative","scale":{"domain":[0,1],"range":["#ffffff","#000000"]},"legend":null}}},
{"transform":[{"filter":"datum.s=='R'"}],"mark":{"type":"line","color":"#d40000","strokeWidth":2},"encoding":{"x":{"field":"x","type":"quantitative","axis":null},"y":{"field":"y","type":"quantitative","axis":null},"order":{"field":"y","type":"quantitative"}}},
{"transform":[{"filter":"datum.s=='M'"}],"mark":{"type":"line","color":"#e81ee8","strokeWidth":2},"encoding":{"x":{"field":"x","type":"quantitative","axis":null},"y":{"field":"y","type":"quantitative","axis":null},"order":{"field":"y","type":"quantitative"}}},
{"transform":[{"filter":"datum.s=='C'"}],"mark":{"type":"line","color":"#40dede","strokeWidth":2},"encoding":{"x":{"field":"x","type":"quantitative","axis":null},"y":{"field":"y","type":"quantitative","axis":null},"order":{"field":"y","type":"quantitative"}}},
{"transform":[{"filter":"datum.s=='Y'"}],"mark":{"type":"line","color":"#f2f205","strokeWidth":2},"encoding":{"x":{"field":"x","type":"quantitative","axis":null},"y":{"field":"y","type":"quantitative","axis":null},"order":{"field":"y","type":"quantitative"}}},
{"data":{"values":[{}]},"mark":{"type":"text","align":"left","baseline":"middle","fontSize":19,"font":"Liberation Serif"},"encoding":{"x":{"datum":-0.068,"type":"quantitative","axis":null},"y":{"datum":1.038,"type":"quantitative","axis":null},"text":{"value":"(d)"}}},
{"data":{"values":[{}]},"mark":{"type":"text","align":"center","baseline":"middle","fontSize":19,"font":"Liberation Serif"},"encoding":{"x":{"datum":0.5,"type":"quantitative","axis":null},"y":{"datum":1.038,"type":"quantitative","axis":null},"text":{"value":"fan-beam_equi signedspikes"}}}
]}
],
"config":{
"font":"Liberation Serif",
"view":{"stroke":"#4d4d4d","strokeWidth":1},
"axis":{"domainColor":"#4d4d4d","tickColor":"#4d4d4d","tickSize":-5,"labelPadding":12,"labelFont":"Liberation Serif","labelFontSize":20,"labelColor":"#000000","titleFont":"Liberation Serif","titleFontSize":19,"titleFontWeight":"normal","titleFontStyle":"italic","titleColor":"#000000","titlePadding":3,"grid":false}
}
}
